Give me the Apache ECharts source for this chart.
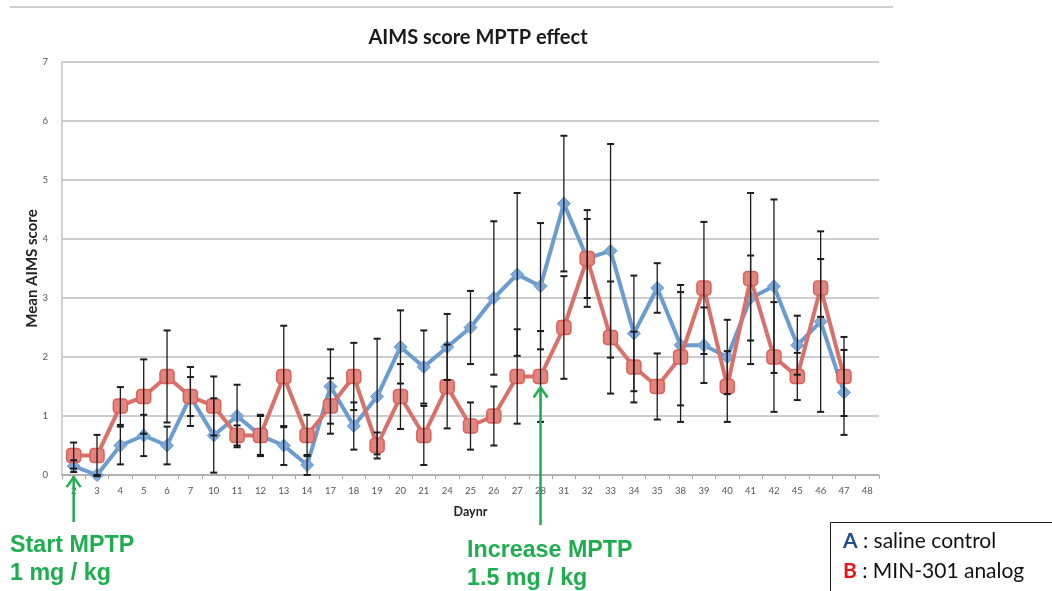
<!DOCTYPE html>
<html>
<head>
<meta charset="utf-8">
<script src="https://cdn.jsdelivr.net/npm/echarts@6/dist/echarts.min.js"></script>
<style>
  html, body { margin: 0; padding: 0; background: #fff; }
  #chart { width: 1052px; height: 591px; }
</style>
</head>
<body>
<div id="chart"></div>
<script>
// Study days on which AIMS was scored
const days = ['2', '3', '4', '5', '6', '7', '10', '11', '12', '13', '14', '17', '18', '19', '20', '21',
  '24', '25', '26', '27', '28', '31', '32', '33', '34', '35', '38', '39', '40', '41', '42', '45', '46', '47', '48'];

// A: saline control — mean AIMS score and error
const salineMean = [0.15, 0, 0.5, 0.67, 0.5, 1.33, 0.67, 1.0, 0.67, 0.5, 0.17, 1.5, 0.83, 1.33, 2.17, 1.83,
  2.17, 2.5, 3.0, 3.4, 3.2, 4.6, 3.67, 3.8, 2.4, 3.17, 2.2, 2.2, 2.0, 3.0, 3.2, 2.2, 2.6, 1.4];
const salineErr = [0.1, 0, 0.32, 0.35, 0.32, 0.33, 0.63, 0.53, 0.33, 0.33, 0.17, 0.63, 0.4, 0.98, 0.62, 0.62,
  0.56, 0.62, 1.3, 1.38, 1.07, 1.15, 0.67, 1.81, 0.98, 0.42, 1.02, 0.64, 0.63, 0.72, 1.47, 0.5, 1.53, 0.72];

// B: MIN-301 analog — mean AIMS score and error
const minMean = [0.33, 0.33, 1.17, 1.33, 1.67, 1.33, 1.17, 0.67, 0.67, 1.67, 0.67, 1.17, 1.67, 0.5, 1.33, 0.67,
  1.5, 0.83, 1.0, 1.67, 1.67, 2.5, 3.67, 2.33, 1.83, 1.5, 2.0, 3.17, 1.5, 3.33, 2.0, 1.67, 3.17, 1.67];
const minErr = [0.22, 0.35, 0.32, 0.63, 0.78, 0.5, 0.5, 0.17, 0.35, 0.86, 0.35, 0.47, 0.57, 0.22, 0.55, 0.5,
  0.71, 0.4, 0.5, 0.8, 0.77, 0.87, 0.82, 0.95, 0.6, 0.56, 1.1, 1.12, 0.6, 1.45, 0.93, 0.4, 0.49, 0.67];

// Dosing events marked under the axis
const doseDays = ['2', '28'];
const doseLabels = [['Start MPTP', '1 mg / kg'], ['Increase MPTP', '1.5 mg / kg']];

const BLUE = '#6c9bd0';
const RED = '#d9706a';
const GREEN = '#1fae4f';

function errorRows(mean, err) {
  return mean.map((m, i) => [i, m - err[i], m + err[i]]);
}

function renderErrorBar(params, api) {
  const i = api.value(0);
  const lo = api.coord([i, api.value(1)]);
  const hi = api.coord([i, api.value(2)]);
  const x = lo[0];
  const w = 3.5;
  const st = { stroke: '#1c1c1c', lineWidth: 1.3 };
  const cap = { stroke: '#1c1c1c', lineWidth: 2 };
  return {
    type: 'group',
    children: [
      { type: 'line', shape: { x1: x, y1: hi[1], x2: x, y2: lo[1] }, style: st },
      { type: 'line', shape: { x1: x - w, y1: hi[1], x2: x + w, y2: hi[1] }, style: cap },
      { type: 'line', shape: { x1: x - w, y1: lo[1], x2: x + w, y2: lo[1] }, style: cap }
    ]
  };
}

const chart = echarts.init(document.getElementById('chart'), null, { renderer: 'canvas' });

const axisFont = { fontFamily: 'Lato, "Liberation Sans", sans-serif', fontSize: 9.5, color: '#555' };

chart.setOption({
  animation: false,
  backgroundColor: '#fff',
  title: {
    text: 'AIMS score MPTP effect',
    left: 473,
    top: 23,
    textAlign: 'center',
    textStyle: { fontFamily: 'Lato, sans-serif', fontWeight: 'bold', fontSize: 20, color: '#1a1a1a' }
  },
  grid: { left: 62, right: 173, top: 62, bottom: 116 },
  xAxis: {
    type: 'category',
    data: days,
    boundaryGap: true,
    name: 'Daynr',
    nameLocation: 'middle',
    nameGap: 30,
    nameTextStyle: { fontFamily: 'Lato, sans-serif', fontWeight: 'bold', fontSize: 12.5, color: '#222' },
    axisLine: { lineStyle: { color: '#a8a8a8', width: 1.5 } },
    axisTick: { show: true, length: 4, lineStyle: { color: '#a8a8a8' } },
    axisLabel: Object.assign({ margin: 11, interval: 0 }, axisFont),
    splitLine: { show: false }
  },
  yAxis: {
    type: 'value',
    min: 0,
    max: 7,
    interval: 1,
    name: 'Mean AIMS score',
    nameLocation: 'middle',
    nameGap: 22,
    nameMoveOverlap: false,
    nameTextStyle: { fontFamily: 'Lato, sans-serif', fontWeight: 'bold', fontSize: 15, color: '#222' },
    axisLine: { show: true, lineStyle: { color: '#c4c4c4', width: 1.5 } },
    axisTick: { show: false },
    axisLabel: Object.assign({ margin: 14 }, axisFont),
    splitLine: { lineStyle: { color: '#bdbdbd', width: 1.5 } }
  },
  series: [
    {
      name: 'A : saline control',
      type: 'line',
      data: salineMean,
      z: 2,
      symbol: 'diamond',
      symbolSize: 13,
      lineStyle: { color: BLUE, width: 4 },
      itemStyle: { color: '#7eaadb', borderColor: BLUE, borderWidth: 1 }
    },
    {
      name: 'B : MIN-301 analog',
      type: 'line',
      data: minMean,
      z: 3,
      symbol: 'roundRect',
      symbolSize: 14,
      lineStyle: { color: RED, width: 4 },
      itemStyle: { color: '#e5847d', borderColor: '#d5625b', borderWidth: 1.5 }
    },
    {
      type: 'custom',
      z: 4,
      renderItem: renderErrorBar,
      encode: { x: 0, y: [1, 2] },
      data: errorRows(salineMean, salineErr)
    },
    {
      type: 'custom',
      z: 4,
      renderItem: renderErrorBar,
      encode: { x: 0, y: [1, 2] },
      data: errorRows(minMean, minErr)
    }
  ]
});

// Annotations: dosing arrows, their labels, the legend box and the frame line
function buildGraphics() {
  const els = [];
  els.push({
    type: 'line', shape: { x1: 10, y1: 7, x2: 893, y2: 7 },
    style: { stroke: '#cfcfcf', lineWidth: 2 }, silent: true
  });

  const arrowBottoms = [522, 525];
  const labelCenters = [[545, 573], [550, 578]];
  const labelLeft = [10, 467];
  doseDays.forEach((d, k) => {
    const idx = days.indexOf(d);
    const low = Math.min(salineMean[idx], minMean[idx]);
    const p = chart.convertToPixel({ gridIndex: 0 }, [idx, low]);
    const x = p[0];
    const tip = p[1] + 10;
    els.push({
      type: 'line', shape: { x1: x, y1: tip, x2: x, y2: arrowBottoms[k] },
      style: { stroke: GREEN, lineWidth: 2.5 }, z: 10
    });
    els.push({
      type: 'polyline', shape: { points: [[x - 7, tip + 11], [x, tip + 1], [x + 7, tip + 11]] },
      style: { stroke: GREEN, lineWidth: 2.5, fill: null }, z: 10
    });
    doseLabels[k].forEach((t, j) => {
      els.push({
        type: 'text', x: labelLeft[k], y: labelCenters[k][j], scaleX: 0.97, z: 10,
        style: {
          text: t, fill: GREEN, font: 'bold 24px "Liberation Sans", Arial, sans-serif',
          verticalAlign: 'middle', align: 'left'
        }
      });
    });
  });

  els.push({
    type: 'rect', shape: { x: 830.5, y: 522.5, width: 240, height: 90 },
    style: { stroke: '#1a1a1a', lineWidth: 1, fill: '#fff' }, z: 10
  });
  const legendRows = [['A', ' : saline control', '#1f4e8c', 541], ['B', ' : MIN-301 analog', '#e8141b', 571]];
  legendRows.forEach(r => {
    els.push({
      type: 'text', x: 843, y: r[3], z: 11,
      style: {
        text: '{k|' + r[0] + '}{v|' + r[1] + '}',
        verticalAlign: 'middle', align: 'left',
        rich: {
          k: { fill: r[2], font: 'bold 21px Lato, sans-serif' },
          v: { fill: '#111', font: '21px Lato, sans-serif' }
        }
      }
    });
  });
  return els;
}

chart.setOption({ graphic: { elements: buildGraphics() } });
</script>
</body>
</html>
